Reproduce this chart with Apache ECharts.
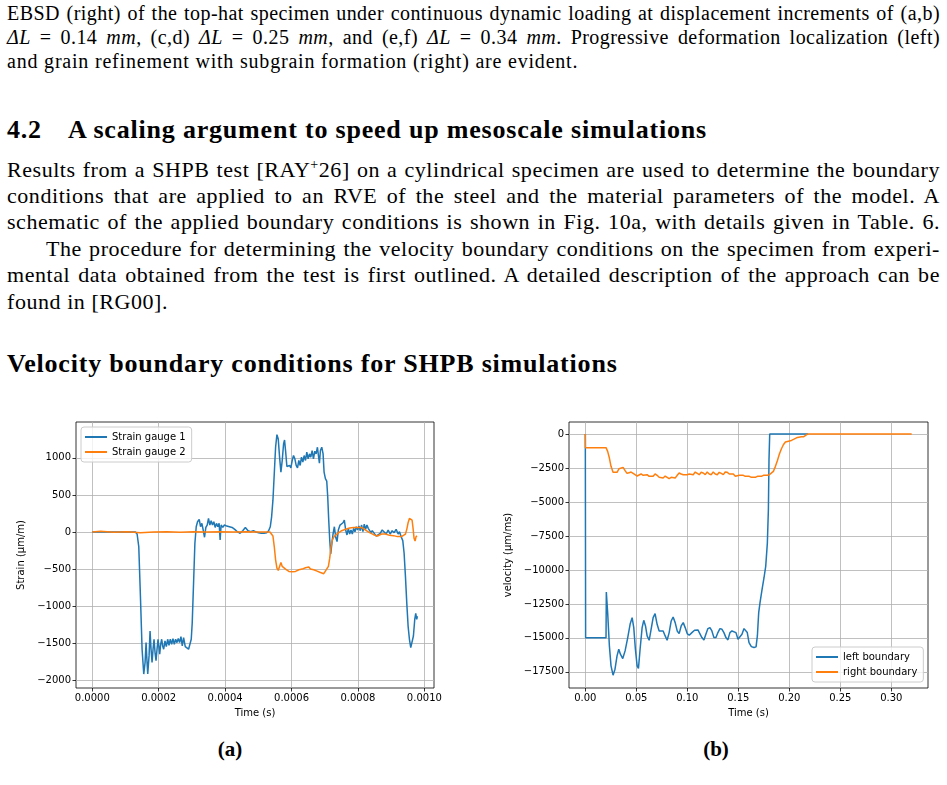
<!DOCTYPE html>
<html>
<head>
<meta charset="utf-8">
<script src="https://cdn.jsdelivr.net/npm/echarts@6/dist/echarts.min.js"></script>
<style>
html, body { margin: 0; padding: 0; background: #fff; }
body { width: 947px; height: 785px; position: relative; overflow: hidden; font-family: "Liberation Serif", serif; color: #000; }
.ln { position: absolute; left: 7px; width: 933px; line-height: 1; }
.j { text-align: justify; text-align-last: justify; }
.cap { font-size: 20px; letter-spacing: 0.45px; }
.txt { font-size: 22px; letter-spacing: 0.55px; }
.hd { font-size: 26px; font-weight: bold; letter-spacing: 0.8px; }
#cha { position: absolute; left: 0; top: 400px; width: 470px; height: 330px; }
#chb { position: absolute; left: 470px; top: 400px; width: 477px; height: 330px; }
.sub { position: absolute; font-weight: bold; font-size: 21px; width: 60px; text-align: center; line-height: 1; }
</style>
</head>
<body>
<div class="ln j cap" style="top:3px">EBSD (right) of the top-hat specimen under continuous dynamic loading at displacement increments of (a,b)</div>
<div class="ln j cap" style="top:27px"><i>ΔL</i> = 0.14 <i>mm</i>, (c,d) <i>ΔL</i> = 0.25 <i>mm</i>, and (e,f) <i>ΔL</i> = 0.34 <i>mm</i>. Progressive deformation localization (left)</div>
<div class="ln cap" style="top:51px;letter-spacing:0.8px">and grain refinement with subgrain formation (right) are evident.</div>

<div class="ln hd" style="top:117px"><span>4.2</span><span style="position:absolute;left:61px">A scaling argument to speed up mesoscale simulations</span></div>

<div class="ln j txt" style="top:159px">Results from a SHPB test [RAY<sup style="font-size:14px;line-height:0">+</sup>26] on a cylindrical specimen are used to determine the boundary</div>
<div class="ln j txt" style="top:185px">conditions that are applied to an RVE of the steel and the material parameters of the model. A</div>
<div class="ln j txt" style="top:211px">schematic of the applied boundary conditions is shown in Fig. 10a, with details given in Table. 6.</div>
<div class="ln j txt" style="top:238px;left:46px;width:894px">The procedure for determining the velocity boundary conditions on the specimen from experi-</div>
<div class="ln j txt" style="top:264px">mental data obtained from the test is first outlined. A detailed description of the approach can be</div>
<div class="ln txt" style="top:291px">found in [RG00].</div>

<div class="ln hd" style="top:351px">Velocity boundary conditions for SHPB simulations</div>

<div id="cha"></div>
<div id="chb"></div>

<div class="sub" style="left:200px;top:739px">(a)</div>
<div class="sub" style="left:686px;top:739px">(b)</div>

<script>
// strain gauge signals, time in s, strain in µm/m
var gauge1 = [[0,0],[0.000130,0],[0.000135,-27],[0.000140,-196],[0.000145,-866],[0.000150,-1580],[0.000155,-1915],[0.000159,-1759],[0.000162,-1491],[0.000165,-1759],[0.000167,-1915],[0.000171,-1670],[0.000174,-1335],[0.000177,-1580],[0.000180,-1759],[0.000183,-1580],[0.000186,-1446],[0.000189,-1625],[0.000192,-1736],[0.000195,-1580],[0.000198,-1446],[0.000201,-1558],[0.000203,-1647],[0.000206,-1513],[0.000209,-1446],[0.000212,-1536],[0.000215,-1580],[0.000219,-1469],[0.000223,-1545],[0.000227,-1446],[0.000231,-1527],[0.000235,-1446],[0.000239,-1513],[0.000243,-1437],[0.000247,-1513],[0.000251,-1446],[0.000255,-1491],[0.000259,-1437],[0.000263,-1491],[0.000267,-1411],[0.000271,-1536],[0.000275,-1424],[0.000280,-1545],[0.000285,-1536],[0.000290,-1580],[0.000295,-1558],[0.000298,-1446],[0.000301,-1223],[0.000305,-687],[0.000309,-152],[0.000313,71],[0.000317,138],[0.000322,170],[0.000326,71],[0.000330,116],[0.000334,27],[0.000338,-71],[0.000342,62],[0.000346,94],[0.000350,183],[0.000354,94],[0.000358,152],[0.000362,94],[0.000366,138],[0.000370,62],[0.000374,116],[0.000378,71],[0.000382,116],[0.000385,-107],[0.000388,94],[0.000393,62],[0.000398,94],[0.000405,80],[0.000413,71],[0.000421,62],[0.000429,36],[0.000437,4],[0.000445,-18],[0.000453,18],[0.000461,62],[0.000469,18],[0.000477,4],[0.000485,18],[0.000493,0],[0.000501,-9],[0.000509,-18],[0.000517,-18],[0.000525,-9],[0.000531,18],[0.000536,71],[0.000540,205],[0.000544,429],[0.000548,786],[0.000552,1143],[0.000556,1312],[0.000560,1254],[0.000564,1009],[0.000568,808],[0.000572,964],[0.000576,1187],[0.000579,1241],[0.000582,1098],[0.000586,884],[0.000590,875],[0.000594,897],[0.000598,866],[0.000602,964],[0.000606,1031],[0.000610,987],[0.000614,897],[0.000618,866],[0.000622,964],[0.000626,897],[0.000630,1009],[0.000634,942],[0.000638,1031],[0.000642,964],[0.000646,1076],[0.000650,987],[0.000654,1053],[0.000658,1009],[0.000662,1098],[0.000666,987],[0.000670,1089],[0.000674,1053],[0.000678,1143],[0.000681,1031],[0.000684,929],[0.000687,1098],[0.000691,1143],[0.000695,1053],[0.000698,808],[0.000702,719],[0.000706,687],[0.000709,473],[0.000712,161],[0.000715,-107],[0.000718,-295],[0.000721,-174],[0.000725,-27],[0.000729,71],[0.000733,-71],[0.000737,-129],[0.000741,27],[0.000746,94],[0.000751,71],[0.000755,125],[0.000759,161],[0.000763,27],[0.000767,-40],[0.000771,49],[0.000775,-27],[0.000779,27],[0.000783,-27],[0.000787,49],[0.000791,4],[0.000795,71],[0.000799,27],[0.000803,80],[0.000807,18],[0.000811,94],[0.000815,4],[0.000819,107],[0.000823,36],[0.000827,94],[0.000831,49],[0.000835,71],[0.000839,-9],[0.000843,18],[0.000849,-18],[0.000855,-54],[0.000861,-71],[0.000867,-18],[0.000873,27],[0.000879,4],[0.000885,-27],[0.000891,27],[0.000897,-27],[0.000903,18],[0.000909,-9],[0.000915,36],[0.000921,-27],[0.000925,4],[0.000930,-62],[0.000935,-116],[0.000939,-286],[0.000943,-598],[0.000947,-955],[0.000951,-1268],[0.000955,-1446],[0.000959,-1558],[0.000963,-1580],[0.000967,-1402],[0.000971,-1179],[0.000974,-1098],[0.000977,-1179],[0.000979,-1134]];

var gauge2 = [[0,0],[0.000025,9],[0.000065,-4],[0.000105,4],[0.000145,-9],[0.000185,0],[0.000225,4],[0.000265,-4],[0.000305,4],[0.000345,0],[0.000385,4],[0.000425,0],[0.000465,4],[0.000505,0],[0.000535,0],[0.000540,-9],[0.000544,-54],[0.000548,-196],[0.000552,-375],[0.000556,-487],[0.000560,-518],[0.000564,-464],[0.000568,-411],[0.000572,-464],[0.000577,-487],[0.000582,-500],[0.000587,-518],[0.000592,-531],[0.000597,-554],[0.000602,-536],[0.000607,-562],[0.000612,-531],[0.000617,-545],[0.000622,-509],[0.000627,-527],[0.000632,-500],[0.000637,-509],[0.000642,-482],[0.000647,-500],[0.000652,-473],[0.000657,-500],[0.000662,-482],[0.000667,-509],[0.000672,-500],[0.000677,-527],[0.000682,-518],[0.000687,-545],[0.000692,-536],[0.000697,-562],[0.000702,-527],[0.000707,-509],[0.000711,-464],[0.000715,-353],[0.000719,-196],[0.000723,-107],[0.000728,-62],[0.000733,-36],[0.000739,-18],[0.000745,0],[0.000751,18],[0.000757,27],[0.000763,36],[0.000769,45],[0.000775,54],[0.000781,49],[0.000787,62],[0.000793,71],[0.000799,62],[0.000805,80],[0.000811,62],[0.000817,45],[0.000823,27],[0.000829,4],[0.000835,-9],[0.000841,-18],[0.000847,-36],[0.000853,-45],[0.000859,-54],[0.000865,-40],[0.000871,-27],[0.000877,-18],[0.000883,-27],[0.000889,-36],[0.000895,-45],[0.000901,-54],[0.000907,-49],[0.000913,-54],[0.000919,-62],[0.000925,-62],[0.000931,-62],[0.000937,-54],[0.000943,-27],[0.000947,36],[0.000951,125],[0.000955,183],[0.000959,196],[0.000963,161],[0.000966,49],[0.000969,-85],[0.000972,-121],[0.000975,-62],[0.000978,-54]];

// velocity boundary conditions, time in s, velocity in µm/ms
var leftBoundary = [[0,0],[0.0003,-15000],[0.0203,-15000],[0.0206,-11626],[0.0219,-13144],[0.0236,-15592],[0.0252,-17060],[0.0272,-17745],[0.0291,-17305],[0.0311,-16326],[0.0328,-15837],[0.0344,-16204],[0.0367,-16522],[0.0390,-15959],[0.0416,-14980],[0.0439,-14001],[0.0459,-13511],[0.0475,-14245],[0.0491,-15837],[0.0508,-17060],[0.0521,-17256],[0.0537,-15837],[0.0557,-14245],[0.0573,-13707],[0.0590,-14123],[0.0606,-14857],[0.0626,-15176],[0.0645,-14368],[0.0665,-13511],[0.0684,-13217],[0.0704,-14001],[0.0724,-14490],[0.0743,-14368],[0.0763,-14490],[0.0783,-14857],[0.0802,-15176],[0.0822,-14612],[0.0842,-13756],[0.0861,-13462],[0.0881,-13878],[0.0901,-14490],[0.0920,-14686],[0.0940,-14123],[0.0960,-13878],[0.0979,-14245],[0.0999,-14686],[0.1019,-14808],[0.1045,-14612],[0.1071,-14441],[0.1104,-14417],[0.1123,-14564],[0.1143,-14980],[0.1163,-15151],[0.1182,-14735],[0.1202,-14319],[0.1222,-14245],[0.1241,-14490],[0.1261,-14980],[0.1281,-14980],[0.1300,-14612],[0.1320,-14319],[0.1340,-14368],[0.1359,-14612],[0.1379,-14980],[0.1398,-15151],[0.1418,-14612],[0.1438,-14490],[0.1457,-14564],[0.1477,-14612],[0.1497,-15102],[0.1516,-15176],[0.1536,-14735],[0.1556,-14319],[0.1575,-14172],[0.1588,-14612],[0.1605,-15347],[0.1628,-15641],[0.1654,-15714],[0.1674,-15665],[0.1687,-14857],[0.1700,-13144],[0.1713,-12410],[0.1733,-11431],[0.1752,-10574],[0.1769,-9717],[0.1785,-8004],[0.1795,-5556],[0.1801,-1885],[0.1808,0],[0.2185,0]];

var rightBoundary = [[0,0],[0.0001,-1000],[0.0203,-1000],[0.0219,-1273],[0.0236,-1763],[0.0252,-2375],[0.0272,-2815],[0.0291,-2937],[0.0311,-2815],[0.0331,-2546],[0.0350,-2399],[0.0370,-2448],[0.0390,-2693],[0.0409,-2889],[0.0429,-2840],[0.0449,-2791],[0.0468,-2889],[0.0488,-2987],[0.0508,-3085],[0.0527,-3036],[0.0547,-2937],[0.0567,-3036],[0.0586,-3036],[0.0606,-2987],[0.0626,-3109],[0.0645,-3231],[0.0665,-3109],[0.0684,-2937],[0.0704,-3036],[0.0724,-3183],[0.0743,-3280],[0.0763,-3231],[0.0783,-3085],[0.0802,-3158],[0.0822,-3280],[0.0842,-3183],[0.0861,-3183],[0.0881,-3231],[0.0901,-3036],[0.0920,-2864],[0.0940,-2937],[0.0960,-2987],[0.0979,-2889],[0.0999,-2987],[0.1019,-2937],[0.1038,-2889],[0.1058,-2987],[0.1078,-2791],[0.1097,-2937],[0.1117,-2987],[0.1136,-2815],[0.1156,-2864],[0.1176,-2987],[0.1195,-2791],[0.1215,-2937],[0.1235,-2987],[0.1254,-2791],[0.1274,-2937],[0.1294,-2987],[0.1313,-2815],[0.1333,-2889],[0.1353,-2987],[0.1372,-2791],[0.1392,-2815],[0.1412,-2937],[0.1431,-2864],[0.1451,-2937],[0.1471,-3109],[0.1490,-3060],[0.1510,-3036],[0.1529,-2987],[0.1549,-3036],[0.1569,-3109],[0.1588,-3036],[0.1608,-3109],[0.1628,-3183],[0.1647,-3231],[0.1667,-3183],[0.1687,-3109],[0.1706,-3133],[0.1726,-3109],[0.1746,-3036],[0.1765,-2987],[0.1785,-3036],[0.1805,-2987],[0.1824,-2937],[0.1844,-2742],[0.1864,-2375],[0.1883,-1959],[0.1903,-1469],[0.1923,-1077],[0.1942,-783],[0.1962,-588],[0.1982,-539],[0.2001,-539],[0.2021,-465],[0.2041,-392],[0.2060,-294],[0.2080,-245],[0.2099,-245],[0.2119,-196],[0.2139,-196],[0.2158,-147],[0.2178,0],[0.32,0]];

// tick values
var ticksAx = [0, 0.0002, 0.0004, 0.0006, 0.0008, 0.0010];
var ticksAy = [-2000, -1500, -1000, -500, 0, 500, 1000];
var ticksBx = [0, 0.05, 0.10, 0.15, 0.20, 0.25, 0.30];
var ticksBy = [-17500, -15000, -12500, -10000, -7500, -5000, -2500, 0];

var labelFont = { fontFamily: 'DejaVu Sans', fontSize: 10, color: '#000' };
function minus(s) { return String(s).replace('-', '\u2212'); }

function axis(name, gap, min, max, ticks, fmt) {
    return {
        type: 'value',
        min: min,
        max: max,
        name: name,
        nameLocation: 'middle',
        nameGap: gap,
        nameTextStyle: labelFont,
        axisLine: { show: false, onZero: false },
        axisTick: { show: true, length: 3.5, customValues: ticks, lineStyle: { color: '#000', width: 0.8 } },
        axisLabel: Object.assign({ customValues: ticks, margin: 5, formatter: fmt, showMinLabel: true, showMaxLabel: true }, labelFont),
        splitLine: { show: true, lineStyle: { color: '#b0b0b0', width: 0.8 } }
    };
}

var legendBase = {
    orient: 'vertical',
    icon: 'rect',
    itemWidth: 22,
    itemHeight: 2,
    itemGap: 5,
    padding: [5, 6, 5, 4],
    backgroundColor: 'rgba(255,255,255,0.8)',
    borderColor: '#cccccc',
    borderWidth: 1,
    borderRadius: 3,
    textStyle: { fontFamily: 'DejaVu Sans', fontSize: 10, color: '#000' }
};

var myChart = echarts.init(document.getElementById('cha'));
option = {
    animation: false,
    grid: { left: 76, top: 22, width: 358, height: 266, show: true, borderColor: '#000', borderWidth: 0.8 },
    legend: Object.assign({ left: 81, top: 27, data: ['Strain gauge 1', 'Strain gauge 2'] }, legendBase),
    xAxis: axis('Time (s)', 20, -0.000049, 0.001029, ticksAx, function (v) { return v.toFixed(4); }),
    yAxis: axis('Strain (μm/m)', 41, -2103, 1483, ticksAy, function (v) { return minus(v); }),
    series: [
        { name: 'Strain gauge 1', type: 'line', data: gauge1, showSymbol: false, symbol: 'none', color: '#1f77b4', lineStyle: { width: 1.5 } },
        { name: 'Strain gauge 2', type: 'line', data: gauge2, showSymbol: false, symbol: 'none', color: '#ff7f0e', lineStyle: { width: 1.5 } }
    ]
};
myChart.setOption(option);

var myChart2 = echarts.init(document.getElementById('chb'));
option2 = {
    animation: false,
    grid: { left: 99, top: 22, width: 359, height: 266, show: true, borderColor: '#000', borderWidth: 0.8 },
    legend: Object.assign({ left: 342, top: 247, data: ['left boundary', 'right boundary'] }, legendBase),
    xAxis: axis('Time (s)', 20, -0.016, 0.336, ticksBx, function (v) { return v.toFixed(2); }),
    yAxis: axis('velocity (μm/ms)', 48, -18690, 890, ticksBy, function (v) { return minus(v); }),
    series: [
        { name: 'left boundary', type: 'line', data: leftBoundary, showSymbol: false, symbol: 'none', color: '#1f77b4', lineStyle: { width: 1.5 } },
        { name: 'right boundary', type: 'line', data: rightBoundary, showSymbol: false, symbol: 'none', color: '#ff7f0e', lineStyle: { width: 1.5 } }
    ]
};
myChart2.setOption(option2);
</script>
</body>
</html>
